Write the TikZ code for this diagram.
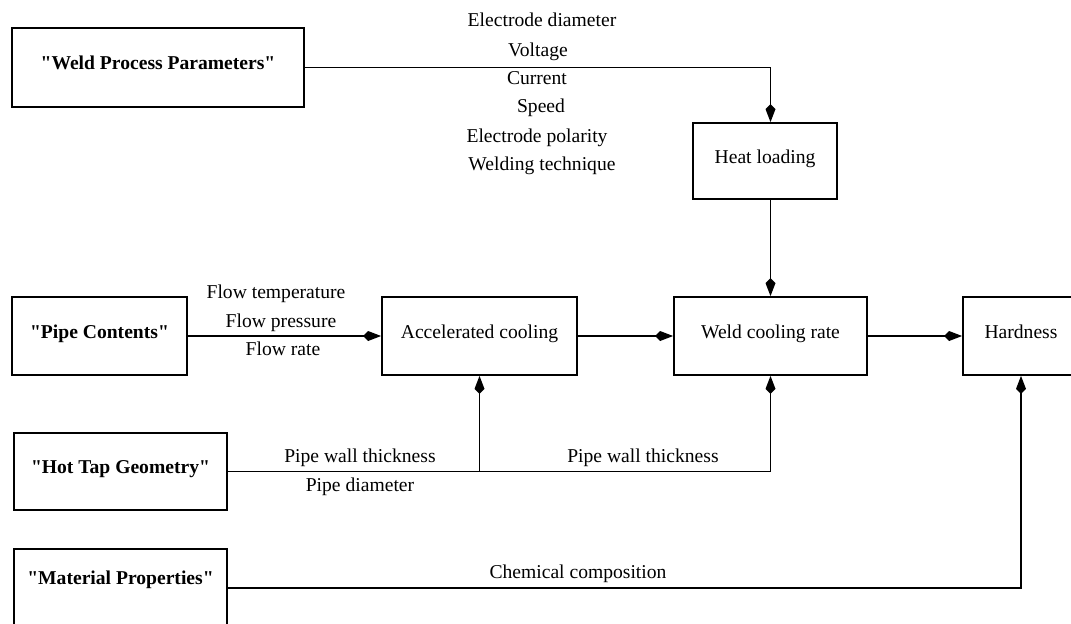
\documentclass[tikz,border=0pt]{standalone}
\usepackage{fontspec}
\setmainfont{Liberation Serif}[Ligatures=TeXOff]
\usetikzlibrary{arrows.meta}

\begin{document}
\begin{tikzpicture}[x=0.5pt,y=-0.5pt,line width=0.9pt,
		font=\fontsize{9.8}{11}\selectfont,
		src/.style={draw,inner sep=0pt,text height=7pt,text depth=5pt,font=\fontsize{9.8}{11}\selectfont\bfseries},
		proc/.style={draw,inner sep=0pt,text height=7pt,text depth=5pt,minimum height=39pt},
		lbl/.style={inner sep=0pt,text height=7pt,text depth=2pt},
		flow/.style={-{Kite[length=9pt,width=5pt,inset=2.5pt]}}]
		\useasboundingbox (0,0) rectangle (1071,623);
		\clip (0,0) rectangle (1071,623);

		%input blocks
		\node[src,minimum width=146pt,minimum height=39.5pt] (wpp) at (158,67.5) {"Weld Process Parameters"};
		\node[src,minimum width=87.5pt,minimum height=39pt] (pc) at (99.5,336) {"Pipe Contents"};
		\node[src,minimum width=106.5pt,minimum height=38.5pt] (htg) at (120.5,471.5) {"Hot Tap Geometry"};
		\node[src,minimum width=106.5pt,minimum height=39pt,text depth=11pt] (mp) at (120.5,588) {"Material Properties"};

		%process blocks
		\node[proc,minimum width=72pt,minimum height=38pt] (heat) at (765,161) {Heat loading};
		\node[proc,minimum width=97.5pt] (ac) at (479.5,336) {Accelerated cooling};
		\node[proc,minimum width=96.5pt] (wcr) at (770.5,336) {Weld cooling rate};
		\node[proc,minimum width=58pt] (hard) at (1021,336) {Hardness};

		%weld process parameters
		\node[lbl] (ed) at (542,21) {Electrode diameter};
		\node[lbl] (volt) at (538,51) {Voltage};
		\node[lbl] (cur) at (537,79) {Current};
		\node[lbl] (spd) at (541,107) {Speed};
		\node[lbl] (pol) at (537,137) {Electrode polarity};
		\node[lbl] (tech) at (542,165) {Welding technique};

		%pipe contents
		\node[lbl] (ftemp) at (276,293) {Flow temperature};
		\node[lbl] (fpres) at (281,322) {Flow pressure};
		\node[lbl] (frate) at (283,350) {Flow rate};

		%geometry
		\node[lbl] (pwt1) at (360,457) {Pipe wall thickness};
		\node[lbl] (pdia) at (360,486) {Pipe diameter};
		\node[lbl] (pwt2) at (643,457) {Pipe wall thickness};

		%material
		\node[lbl] (chem) at (578,573) {Chemical composition};

		%connections
		\draw[flow] (wpp.east) -| (wcr.north |- heat.north);
		\draw[flow] (wcr.north |- heat.south) -- (wcr.north);
		\draw[flow] (pc.east) -- (ac.west);
		\draw[flow] (ac.east) -- (wcr.west);
		\draw[flow] (wcr.east) -- (hard.west);
		\draw[flow] (htg.east) -| (ac.south);
		\draw[flow] (htg.east -| ac.south) -| (wcr.south);
		\draw[flow] (mp.east) -| (hard.south);

	\end{tikzpicture}
\end{document}
